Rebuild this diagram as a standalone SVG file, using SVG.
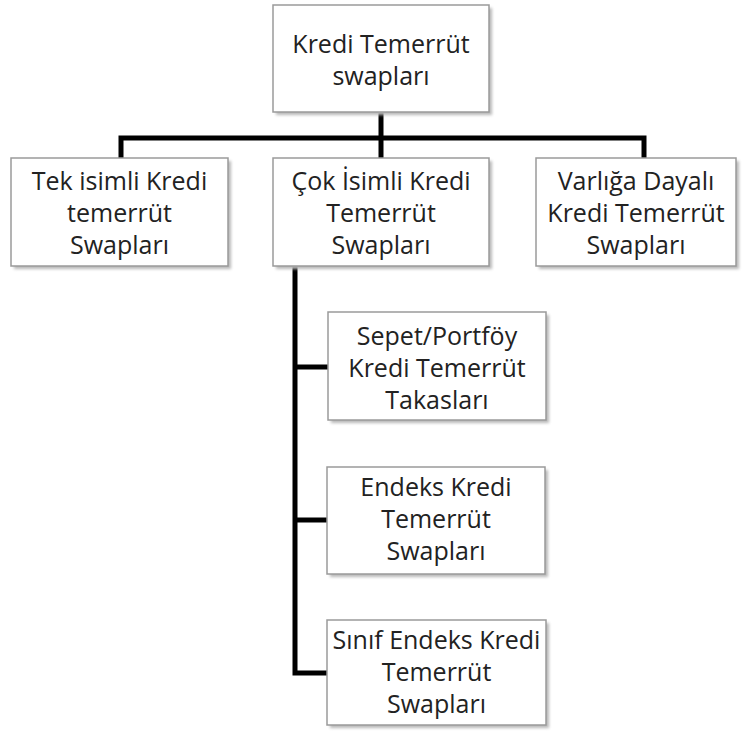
<svg xmlns="http://www.w3.org/2000/svg" width="744" height="731" viewBox="0 0 744 731">
<style>
.box{fill:#fff;stroke:#9a9a9a;stroke-width:1.5}
.sh{fill:#b8b8b8}
.t{font-family:"Open Sans","Noto Sans","DejaVu Sans",sans-serif;font-size:25px;fill:#222;text-anchor:middle}
.c{fill:none;stroke:#000;stroke-width:5;stroke-linejoin:miter}
</style>
<defs>
<filter id="blur" x="-10%" y="-10%" width="120%" height="120%"><feGaussianBlur stdDeviation="1.5"/></filter>
</defs>
<rect width="744" height="731" fill="#fff"/>
<g id="connectors">
<path class="c" d="M381,113 V138"/>
<path class="c" d="M121,158 V138 H644 V158"/>
<path class="c" d="M381,138 V158"/>
<path class="c" d="M295,266 V673 H327"/>
<path class="c" d="M295,367 H328"/>
<path class="c" d="M295,520 H327"/>
</g>
<g id="root">
<rect class="sh" x="276" y="8" width="216" height="107" filter="url(#blur)"/>
<rect class="box" x="273" y="5" width="216" height="107"/>
<text class="t" x="381" y="53">Kredi Temerrüt</text>
<text class="t" x="381" y="85">swapları</text>
</g>
<g id="tek">
<rect class="sh" x="14" y="161" width="217" height="108" filter="url(#blur)"/>
<rect class="box" x="11" y="158" width="217" height="108"/>
<text class="t" x="119.5" y="190">Tek isimli Kredi</text>
<text class="t" x="119.5" y="222">temerrüt</text>
<text class="t" x="119.5" y="254">Swapları</text>
</g>
<g id="cok">
<rect class="sh" x="276" y="161" width="216" height="108" filter="url(#blur)"/>
<rect class="box" x="273" y="158" width="216" height="108"/>
<text class="t" x="381" y="190">Çok İsimli Kredi</text>
<text class="t" x="381" y="222">Temerrüt</text>
<text class="t" x="381" y="254">Swapları</text>
</g>
<g id="varlik">
<rect class="sh" x="539" y="161" width="200" height="108" filter="url(#blur)"/>
<rect class="box" x="536" y="158" width="200" height="108"/>
<text class="t" x="636" y="190">Varlığa Dayalı</text>
<text class="t" x="636" y="222">Kredi Temerrüt</text>
<text class="t" x="636" y="254">Swapları</text>
</g>
<g id="sepet">
<rect class="sh" x="331" y="315" width="218" height="108" filter="url(#blur)"/>
<rect class="box" x="328" y="312" width="218" height="108"/>
<text class="t" x="437" y="345">Sepet/Portföy</text>
<text class="t" x="437" y="377">Kredi Temerrüt</text>
<text class="t" x="437" y="409">Takasları</text>
</g>
<g id="endeks">
<rect class="sh" x="330" y="470" width="218" height="107" filter="url(#blur)"/>
<rect class="box" x="327" y="467" width="218" height="107"/>
<text class="t" x="436" y="496">Endeks Kredi</text>
<text class="t" x="436" y="528">Temerrüt</text>
<text class="t" x="436" y="560">Swapları</text>
</g>
<g id="sinif">
<rect class="sh" x="330" y="623" width="219" height="105" filter="url(#blur)"/>
<rect class="box" x="327" y="620" width="219" height="105"/>
<text class="t" x="436.5" y="649">Sınıf Endeks Kredi</text>
<text class="t" x="436.5" y="681">Temerrüt</text>
<text class="t" x="436.5" y="713">Swapları</text>
</g>
</svg>
